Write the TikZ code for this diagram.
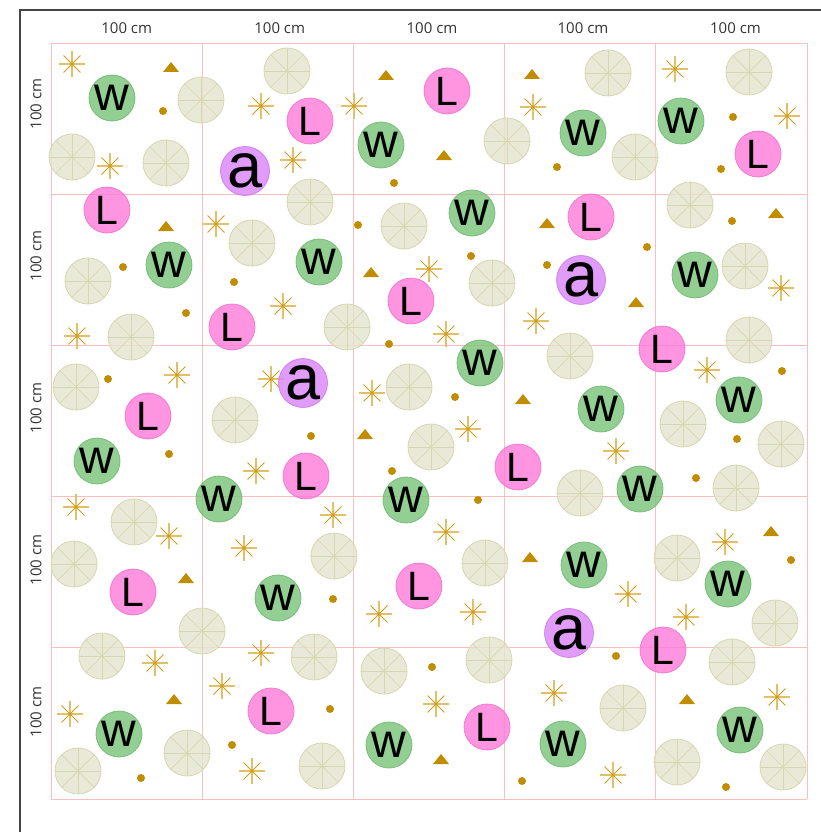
\documentclass[tikz,border=0pt]{standalone}
\usepackage{fontspec}
\setmainfont{Open Sans}
\newfontfamily\bubfont{Liberation Sans}

\definecolor{framegray}{HTML}{444444}
\definecolor{labelgray}{HTML}{333333}
\definecolor{gridpink}{HTML}{FFBCBC}
\definecolor{wfill}{HTML}{78C378}
\definecolor{wedge}{HTML}{6AB56A}
\definecolor{lfill}{HTML}{FF79D8}
\definecolor{ledge}{HTML}{F06CCB}
\definecolor{afill}{HTML}{D883F6}
\definecolor{aedge}{HTML}{C873EA}
\definecolor{wheelfill}{HTML}{E4E4CE}
\definecolor{wheelline}{HTML}{D6D6B0}
\definecolor{starlight}{HTML}{E2C06A}
\definecolor{stardark}{HTML}{D09C1C}
\definecolor{gold}{HTML}{C08C00}

\tikzset{
  bub/.style={circle, minimum size=46pt, inner sep=0pt, line width=0.8pt,
    fill opacity=0.8, draw opacity=0.8, text opacity=1},
  wbub/.style={bub, draw=wedge, fill=wfill, font=\bubfont\fontsize{48}{48}\selectfont},
  lbub/.style={bub, draw=ledge, fill=lfill, font=\bubfont\fontsize{41}{41}\selectfont},
  abub/.style={bub, draw=aedge, fill=afill, font=\bubfont\fontsize{63}{63}\selectfont},
  sizelbl/.style={font=\fontsize{15}{15}\selectfont, text=labelgray, inner sep=0pt},
}

\begin{document}
\begin{tikzpicture}[x=1pt, y=-1pt]
%% 1 unit = 1 px of the sheet, y grows downwards
\useasboundingbox (0,0) rectangle (821,832);

%% ---- Frame ----
\draw[framegray, line width=1.5pt] (20,832) -- (20,10) -- (821,10);

%% ---- 5 x 5 grid, 151.2 px per 100 cm ----
\foreach \i in {0,...,5} {
  \draw[gridpink, line width=0.9pt] ({51+151.2*\i},43) -- ({51+151.2*\i},799);
  \draw[gridpink, line width=0.9pt] (51,{43+151.2*\i}) -- (807,{43+151.2*\i});
}

%% ---- Size labels ----
\foreach \x [count=\i] in {126.7,279.7,432,583,735.5}
  \node[sizelbl] (top\i) at (\x,28) {100 cm};
\foreach \y [count=\i] in {104,256,408,560,712}
  \node[sizelbl, rotate=90] (side\i) at (36,\y) {100 cm};

%% ---- Wheels ----
\foreach \x/\y in {201/100, 72/157, 166/163, 287/71, 310/202, 507/141, 608/73,
    635/157, 749/72, 690/205, 404/226, 252/243, 88/281, 131/337, 76/387,
    235/420, 347/327, 409/387, 431/447, 492/283, 570/356, 745/266, 749/340,
    683/424, 781/444, 580/493, 736/488, 134/522, 74/564, 202/631, 334/556,
    485/563, 677/558, 775/623, 102/656, 314/657, 384/671, 489/660, 732/662,
    623/708, 187/753, 78/771, 322/766, 677/762, 783/767} {
  \fill[wheelfill, fill opacity=0.8] (\x,\y) circle (23pt);
  \foreach \a in {0,45,90,135}
    \draw[wheelline, line width=0.7pt] (\x,\y) +(\a:23pt) -- +(\a+180:23pt);
  \draw[wheelline, line width=0.8pt] (\x,\y) circle (23pt);
}

%% ---- Stars ----
\foreach \x/\y in {72/64, 110/166, 261/106, 354/106, 293/160, 675/69, 787/116,
    533/107, 216/224, 283/306, 77/336, 177/375, 271/379, 429/269, 446/334,
    536/321, 372/393, 468/429, 781/288, 707/370, 616/451, 256/471, 76/507,
    169/536, 244/548, 333/515, 446/532, 725/542, 628/594, 686/617, 379/614,
    473/612, 261/653, 155/663, 222/686, 70/714, 252/771, 436/704, 554/693,
    613/775, 777/697} {
  \draw[starlight, line width=1.3pt] (\x,\y) +(0:13pt) -- +(180:13pt) +(90:13pt) -- +(270:13pt);
  \draw[stardark, line width=0.9pt] (\x,\y) +(45:12pt) -- +(225:12pt) +(135:12pt) -- +(315:12pt);
  \fill[stardark] (\x,\y) circle (1.6pt);
}

%% ---- Triangles ----
\foreach \x/\y in {171/67, 386/75, 532/74, 444/155, 166/226, 547/223, 776/213,
    371/272, 636/302, 365/434, 523/399, 186/578, 530/557, 771/531, 174/699,
    441/759, 687/699}
  \fill[gold] (\x-8,\y+5) -- (\x+8,\y+5) -- (\x,\y-5) -- cycle;

%% ---- Dots ----
\foreach \x/\y in {163/111, 394/183, 733/117, 721/169, 557/167, 123/267, 234/282,
    186/313, 108/379, 358/225, 471/256, 547/265, 647/247, 732/221, 782/371,
    389/344, 455/397, 311/436, 392/471, 478/500, 169/454, 737/439, 696/478,
    791/560, 333/599, 432/667, 330/709, 522/781, 616/656, 726/787, 141/778,
    232/745}
  \fill[gold] (\x,\y) circle (4pt);

%% ---- Lettered circles ----
\foreach \x/\y [count=\i] in {112/98, 381/145, 583/133, 681/121, 472/213, 169/265,
    319/262, 695/275, 480/363, 97/461, 219/499, 406/500, 601/409, 739/400,
    640/489, 278/598, 584/565, 728/584, 119/734, 389/745, 563/744, 740/730}
  \node[wbub] (w\i) at (\x,\y) {w};

\foreach \x/\y [count=\i] in {447/91, 310/121, 758/154, 107/210, 591/217, 232/327,
    411/301, 662/349, 148/416, 306/476, 518/467, 133/592, 419/586, 663/650,
    271/711, 487/727}
  \node[lbub] (l\i) at (\x,\y) {L};

\foreach \x/\y [count=\i] in {245/171, 581/280, 303/383, 569/633}
  \node[abub] (a\i) at (\x,\y) {a};
\end{tikzpicture}
\end{document}
